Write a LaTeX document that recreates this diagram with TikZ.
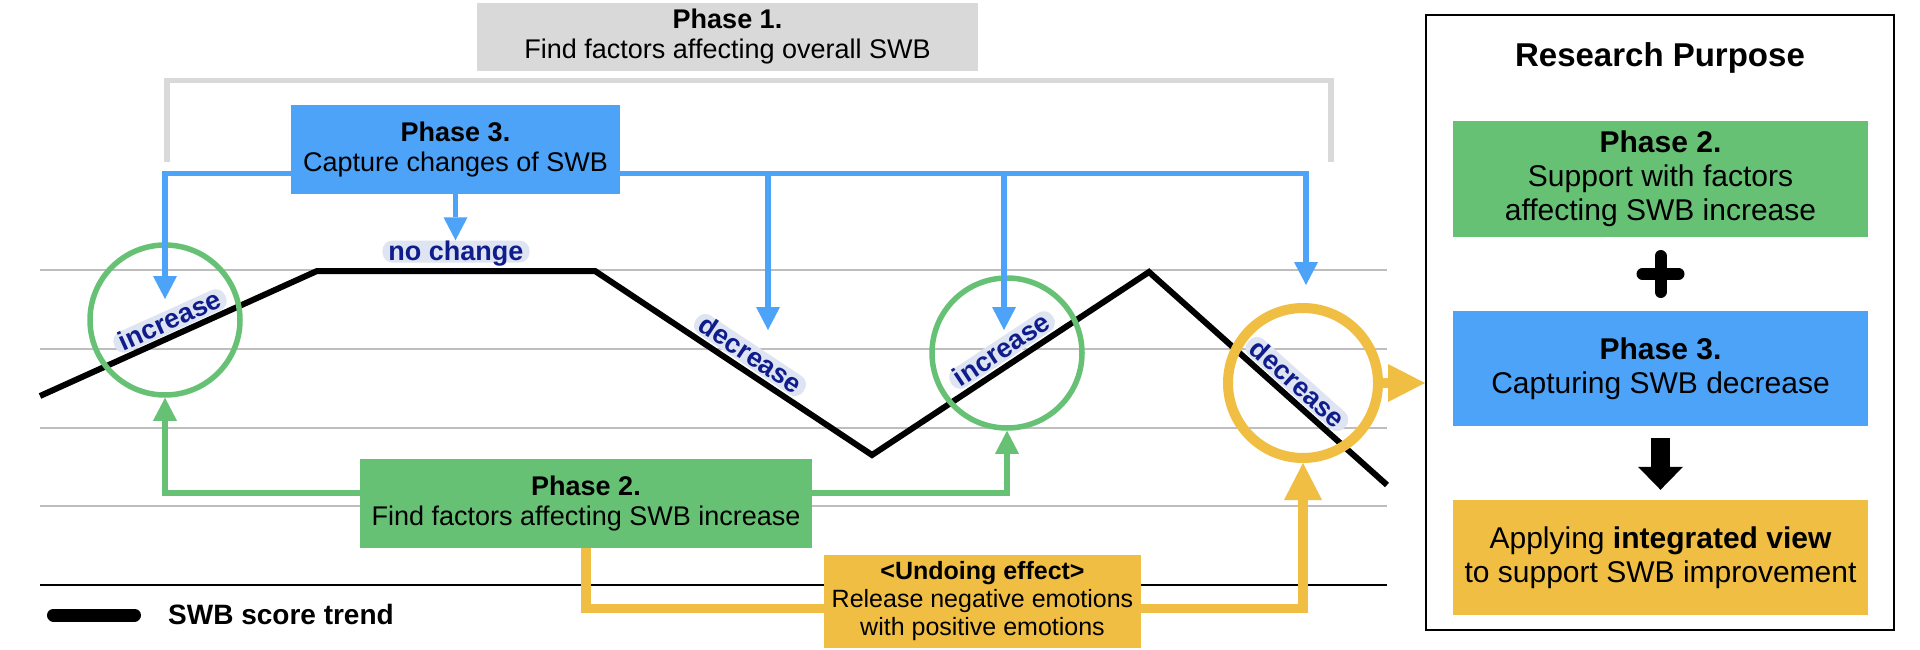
\documentclass[tikz,border=0pt]{standalone}
\usepackage{fontspec}
\setmainfont{Liberation Sans}
\usetikzlibrary{arrows.meta,calc}
\definecolor{boxgray}{RGB}{217,217,217}
\definecolor{pblue}{RGB}{76,163,248}
\definecolor{pgreen}{RGB}{103,193,117}
\definecolor{porange}{RGB}{240,190,66}
\definecolor{pillc}{RGB}{222,228,241}
\definecolor{navy}{RGB}{15,28,140}
\definecolor{gridc}{RGB}{190,190,190}
\begin{document}
\begin{tikzpicture}[x=1pt,y=-1pt,
  phase/.style={rectangle, inner sep=0pt, align=center, text=black, font=\fontsize{27}{30}\selectfont},
  rpbox/.style={rectangle, inner sep=0pt, align=center, text=black, minimum width=415pt, font=\fontsize{30}{34}\selectfont},
  pill/.style={fill=pillc, rounded corners=10pt, inner xsep=6pt, inner ysep=0.5pt, text height=19pt, text depth=2pt, text=navy, font=\fontsize{27}{27}\selectfont\bfseries},
  ring/.style={circle, inner sep=0pt, minimum size=150pt},
  gridln/.style={draw=gridc, line width=1.3pt},
  bracketln/.style={draw=boxgray, line width=5.5pt},
  blueln/.style={draw=pblue, line width=5.3pt, -{Triangle[width=24pt,length=23pt,line width=0pt]}},
  greenln/.style={draw=pgreen, line width=5.5pt, -{Triangle[width=24pt,length=23pt,line width=0pt]}},
  orangeln/.style={draw=porange, line width=9.5pt},
  orangetip/.style={-{Triangle[width=38pt,length=37pt,line width=0pt]}}
]
\fill[white] (0,0) rectangle (1920,650);
\useasboundingbox (0,0) rectangle (1920,650);

% grid lines of the chart
\foreach \yy in {270,349,428,506} \draw[gridln] (40,\yy) -- (1387,\yy);
\draw[black, line width=1.5pt] (40,585) -- (1387,585);

% Phase 1 bracket
\coordinate (brL) at (167,162);
\coordinate (brR) at (1331,162);
\coordinate (brT) at (0,80.5);
\draw[bracketln] (brL) -- (brL |- brT) -- (brR |- brT) -- (brR);

% SWB trend line
\draw[black, line width=6pt] (40,396) -- (317,271) -- (595,271) -- (872,455) -- (1149,272) -- (1387,485);

% labels on the trend
\node[pill, rotate=24.29] (li1) at (170,321) {increase};
\node[pill, rotate=-33.6] (ld1) at (750,355) {decrease};
\node[pill, rotate=33.46] (li2) at (1002,350) {increase};
\node[pill, rotate=-41.83] (ld2) at (1297,384) {decrease};
\node[pill] (nc) at (456,251.5) {no change};

% rings
\node[ring, draw=pgreen, line width=5.5pt] (c1) at (165,320) {};
\node[ring, draw=pgreen, line width=5.5pt] (c2) at (1007,353) {};
\node[ring, draw=porange, line width=10pt] (oc) at (1303,383) {};

% phase boxes
\node[phase, fill=boxgray, minimum width=501pt, minimum height=68pt] (p1) at (727.5,37) {\textbf{Phase 1.}\\Find factors affecting overall SWB};
\node[phase, fill=pblue, minimum width=329pt, minimum height=89pt] (p3) at (455.5,149.5) {\textbf{Phase 3.}\\Capture changes of SWB};
\node[phase, fill=pgreen, minimum width=452pt, minimum height=89pt] (p2) at (586,503.5) {\textbf{Phase 2.}\\Find factors affecting SWB increase};
\node[phase, fill=porange, minimum width=317pt, minimum height=93pt, font=\fontsize{25}{28}\selectfont] (ud) at (982.5,601.5) {\textbf{<Undoing effect>}\\Release negative emotions\\with positive emotions};

% research purpose panel
\node[draw=black, line width=2pt, minimum width=468pt, minimum height=615pt, inner sep=0pt] (rp) at (1660,322.5) {};
\node[font=\fontsize{33}{36}\selectfont\bfseries, inner sep=0pt] (rpt) at (1660,57.5) {Research Purpose};
\node[rpbox, fill=pgreen, minimum height=116pt] (rg) at (1660.5,179) {\textbf{Phase 2.}\\Support with factors\\affecting SWB increase};
\node[rpbox, fill=pblue, minimum height=115pt] (rb) at (1660.5,368.5) {\textbf{Phase 3.}\\Capturing SWB decrease};
\node[rpbox, fill=porange, minimum height=115pt] (ro) at (1660.5,557.5) {Applying \textbf{integrated view}\\to support SWB improvement};
\coordinate (plus) at ($(rg.south)!0.5!(rb.north)$);
\draw[line width=12pt, line cap=round] ($(plus)+(-18,0)$) -- ($(plus)+(18,0)$);
\draw[line width=12pt, line cap=round] ($(plus)+(0,-18)$) -- ($(plus)+(0,18)$);
\draw[line width=19pt, -{Triangle[width=45pt,length=23pt,line width=0pt]}, shorten <=12pt, shorten >=10pt] (rb.south) -- (ro.north);

% blue connectors (Phase 3)
\coordinate (bus) at (0,173.5);
\coordinate (t1) at (165,299);
\coordinate (t2) at (768,330);
\coordinate (t3) at (1004,330);
\coordinate (t4) at (1306,285);
\draw[blueln] (p3.west |- bus) -| (t1);
\draw[blueln] (p3.east |- bus) -| (t4);
\draw[blueln] (t2 |- bus) -- (t2);
\draw[blueln] (t3 |- bus) -- (t3);
\draw[blueln] (p3.south) -- (p3.south |- nc.north);

% green connectors (Phase 2)
\draw[greenln] ([yshift=10.5pt]p2.west) -| (c1.south);
\draw[greenln] ([yshift=10.5pt]p2.east) -| (c2.south);

% orange connectors (undoing effect)
\draw[orangeln] (p2.south) |- ([yshift=-7pt]ud.west);
\draw[orangeln, orangetip] ([yshift=-7pt]ud.east) -| (oc.south);
\draw[orangeln, orangetip] (oc.east) -- (oc.east -| rp.west);

% legend
\coordinate (lg1) at (53.5,615);
\coordinate (lg2) at (134.5,615);
\draw[black, line width=13pt, line cap=round] (lg1) -- (lg2);
\node[anchor=base west, inner sep=0pt, font=\fontsize{28}{30}\selectfont\bfseries] (lgt) at (168,624) {SWB score trend};
\end{tikzpicture}
\end{document}
